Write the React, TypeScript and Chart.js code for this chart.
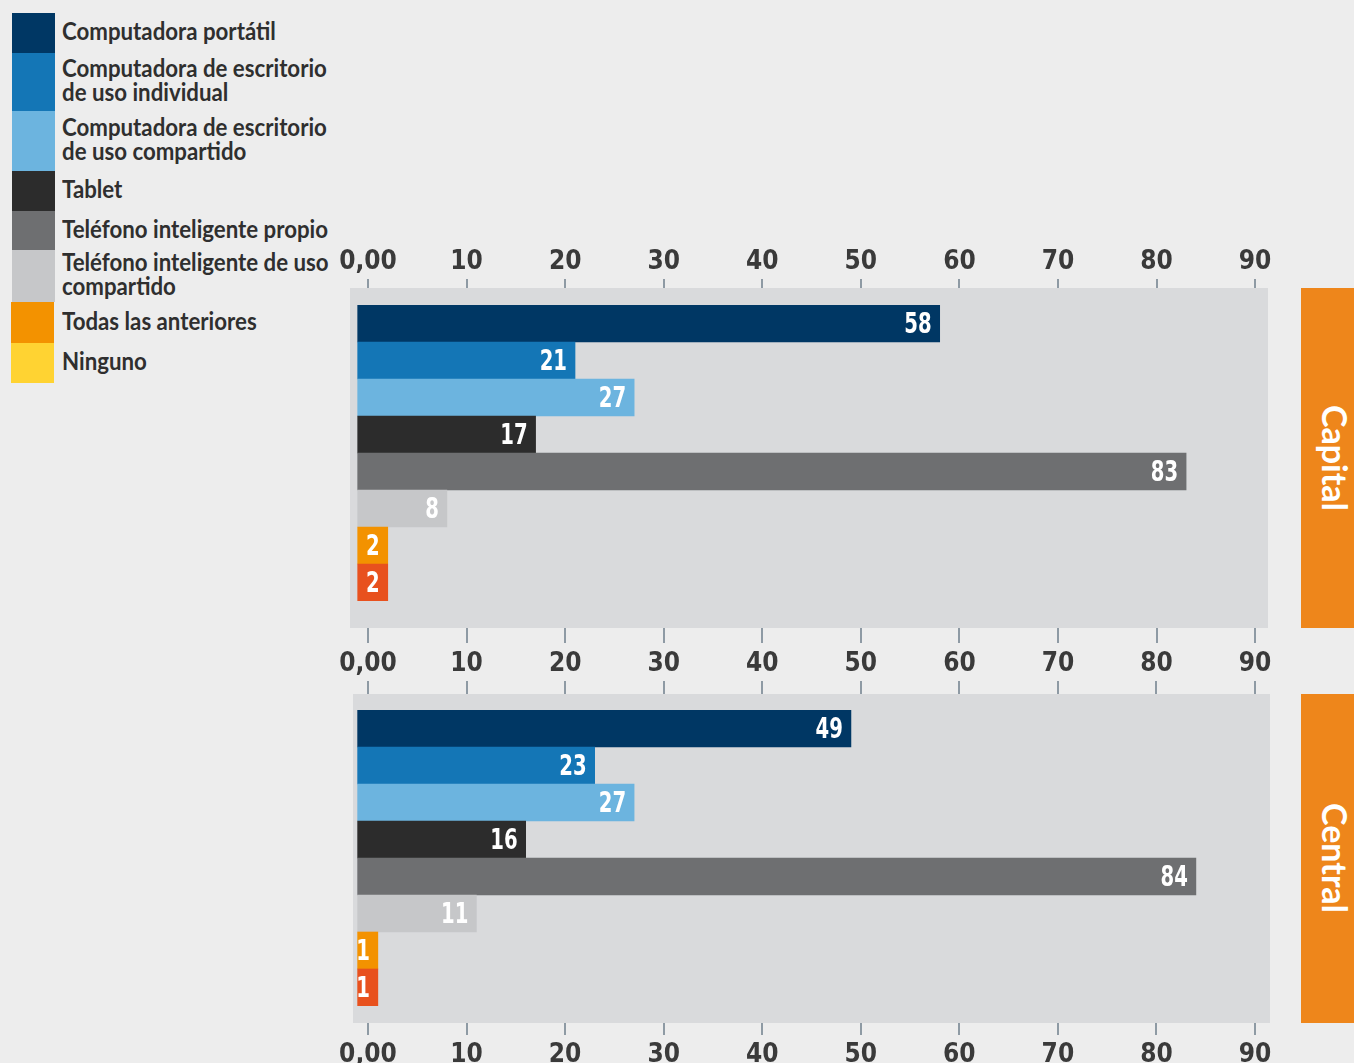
import React, { useEffect, useRef } from 'react';
import { Chart, registerables } from 'chart.js';

Chart.register(...registerables);

// ---------- data ----------
const categories = [
  'Computadora portátil',
  'Computadora de escritorio\nde uso individual',
  'Computadora de escritorio\nde uso compartido',
  'Tablet',
  'Teléfono inteligente propio',
  'Teléfono inteligente de uso\ncompartido',
  'Todas las anteriores',
  'Ninguno',
];
const regions = ['Capital', 'Central'];
const capitalValues = [58, 21, 27, 17, 83, 8, 2, 2];
const centralValues = [49, 23, 27, 16, 84, 11, 1, 1];
const tickValues = [0, 10, 20, 30, 40, 50, 60, 70, 80, 90];
const tickLabels = ['0,00', '10', '20', '30', '40', '50', '60', '70', '80', '90'];

// ---------- styles ----------
const barColors = ['#003764', '#1476B6', '#6CB4DF', '#2C2C2C', '#6E6F71', '#C6C7C9', '#F39200', '#E8511E'];
const legendColors = ['#003764', '#1476B6', '#6CB4DF', '#2C2C2C', '#6E6F71', '#C6C7C9', '#F39200', '#FFD332'];
const legendHeights = [40, 58, 60, 40, 39, 52, 41, 40];
const FONT_NARROW = '"DejaVu Sans Condensed", "DejaVu Sans", sans-serif';
const FONT_LEGEND = 'Lato, "Noto Sans", sans-serif';
const PAGE_BG = '#EDEDED';
const PANEL_BG = '#D9DADC';
const TEXT_DARK = '#3A3A3A';
const TICK_COLOR = '#8E9AA4';
const REGION_COLOR = '#EE861B';

type Geom = {
  top: number; height: number; left: number; right: number;
  min: number; max: number;
  topAxisH: number; bottomAxisH: number;
  topTick: number; bottomTick: number;
  topLabels: boolean; topPad: number; bottomPad: number;
  panelTop: number; panelBottom: number;
};

const geoms: Geom[] = [
  { top: 230, height: 448, left: 350, right: 1268, min: -1.83, max: 91.31,
    topAxisH: 75, bottomAxisH: 77, topTick: 26, bottomTick: 42,
    topLabels: true, topPad: 4, bottomPad: 8, panelTop: 17, panelBottom: 27 },
  { top: 678, height: 385, left: 353, right: 1270, min: -1.52, max: 91.52,
    topAxisH: 32, bottomAxisH: 57, topTick: 29, bottomTick: 29,
    topLabels: false, topPad: 3, bottomPad: 7, panelTop: 16, panelBottom: 17 },
];
const regionBoxes = [
  { top: 288, height: 340 },
  { top: 694, height: 329 },
];

const W = 1354;

const panelPlugin = {
  id: 'panelBg',
  beforeDatasetsDraw(chart: any, _args: any, opts: any) {
    const { ctx, chartArea } = chart;
    ctx.save();
    ctx.fillStyle = PANEL_BG;
    ctx.fillRect(
      chartArea.left,
      chartArea.top - opts.top,
      chartArea.right - chartArea.left,
      chartArea.bottom - chartArea.top + opts.top + opts.bottom,
    );
    ctx.restore();
  },
};

const valueLabelPlugin = {
  id: 'valueLabels',
  afterDatasetsDraw(chart: any) {
    const { ctx } = chart;
    const meta = chart.getDatasetMeta(0);
    const data = chart.data.datasets[0].data as number[];
    meta.data.forEach((bar: any, i: number) => {
      ctx.save();
      ctx.font = `bold 28px ${FONT_NARROW}`;
      ctx.fillStyle = '#FFFFFF';
      ctx.textAlign = 'right';
      ctx.textBaseline = 'middle';
      ctx.translate(bar.x - 8, bar.y + 2);
      ctx.scale(0.78, 1);
      ctx.fillText(String(data[i]), 0, 0);
      ctx.restore();
    });
  },
};

function fmtTick(v: number) {
  const idx = tickValues.indexOf(v);
  return idx >= 0 ? tickLabels[idx] : '';
}

function PanelChart({ values, geom }: { values: number[]; geom: Geom }) {
  const ref = useRef<HTMLCanvasElement | null>(null);
  useEffect(() => {
    if (!ref.current) return;
    const tickFont = { family: FONT_NARROW, size: 26, weight: 'bold' as const, lineHeight: 1 };
    const chart = new Chart(ref.current, {
      type: 'bar',
      data: {
        labels: categories,
        datasets: [
          {
            data: values,
            backgroundColor: barColors,
            borderWidth: 0,
            base: -1.05,
            categoryPercentage: 1,
            barPercentage: 1,
            xAxisID: 'x',
          } as any,
        ],
      },
      options: {
        indexAxis: 'y',
        responsive: false,
        animation: false,
        events: [],
        layout: { padding: { left: geom.left, right: W - geom.right, top: 0, bottom: 0 } },
        plugins: {
          legend: { display: false },
          tooltip: { enabled: false },
          panelBg: { top: geom.panelTop, bottom: geom.panelBottom },
        } as any,
        scales: {
          y: { display: false },
          x: {
            type: 'linear',
            position: 'bottom',
            min: geom.min,
            max: geom.max,
            bounds: 'data',
            afterBuildTicks: (s: any) => { s.ticks = tickValues.map((value) => ({ value })); },
            afterFit: (s: any) => { s.height = geom.bottomAxisH; },
            grid: { drawOnChartArea: false, drawTicks: true, tickLength: geom.bottomTick, color: TICK_COLOR, lineWidth: 2 },
            border: { display: false },
            ticks: {
              autoSkip: false, maxRotation: 0, padding: geom.bottomPad,
              color: TEXT_DARK, font: tickFont,
              callback: (v: any) => fmtTick(Number(v)),
            },
          },
          x2: {
            type: 'linear',
            position: 'top',
            min: geom.min,
            max: geom.max,
            bounds: 'data',
            afterBuildTicks: (s: any) => { s.ticks = tickValues.map((value) => ({ value })); },
            afterFit: (s: any) => { s.height = geom.topAxisH; },
            grid: { drawOnChartArea: false, drawTicks: true, tickLength: geom.topTick, color: TICK_COLOR, lineWidth: 2 },
            border: { display: false },
            ticks: {
              display: geom.topLabels,
              autoSkip: false, maxRotation: 0, padding: geom.topPad,
              color: TEXT_DARK, font: tickFont,
              callback: (v: any) => fmtTick(Number(v)),
            },
          },
        } as any,
      },
      plugins: [panelPlugin, valueLabelPlugin],
    });
    return () => chart.destroy();
  }, [values, geom]);
  return (
    <canvas
      ref={ref}
      width={W}
      height={geom.height}
      style={{ position: 'absolute', left: 0, top: geom.top, width: W, height: geom.height }}
    />
  );
}

export default function App() {
  const seriesByRegion = [capitalValues, centralValues];
  let y = 13;
  const legendItems = categories.map((label, i) => {
    const top = y;
    y += legendHeights[i];
    return (
      <div key={label} style={{ position: 'absolute', left: 0, top, height: legendHeights[i], width: 340 }}>
        <div style={{ position: 'absolute', left: i >= 6 ? 11 : 12, top: 0, width: 43, height: legendHeights[i], background: legendColors[i] }} />
        <div style={{
          position: 'absolute', left: 62, top: -3, height: legendHeights[i], display: 'flex', alignItems: 'center',
          fontFamily: FONT_LEGEND, fontWeight: 'bold', fontSize: 25, lineHeight: '24px', color: '#2F2F2F', whiteSpace: 'pre',
          transform: 'scaleX(0.89)', transformOrigin: 'left center',
        }}>{label}</div>
      </div>
    );
  });
  return (
    <div style={{ position: 'fixed', left: 0, top: 0, width: W, height: 1063, background: PAGE_BG, overflow: 'hidden' }}>
      {legendItems}
      {regions.map((r, i) => (
        <React.Fragment key={r}>
          <PanelChart values={seriesByRegion[i]} geom={geoms[i]} />
          <div style={{
            position: 'absolute', left: 1301, top: regionBoxes[i].top, width: 53, height: regionBoxes[i].height,
            background: REGION_COLOR, display: 'flex', alignItems: 'center', justifyContent: 'center', boxSizing: 'border-box', paddingLeft: 14,
          }}>
            <span style={{ writingMode: 'vertical-rl', color: '#FFFFFF', fontFamily: FONT_LEGEND, fontWeight: 'bold', fontSize: 34, lineHeight: '34px' }}>{r}</span>
          </div>
        </React.Fragment>
      ))}
    </div>
  );
}
